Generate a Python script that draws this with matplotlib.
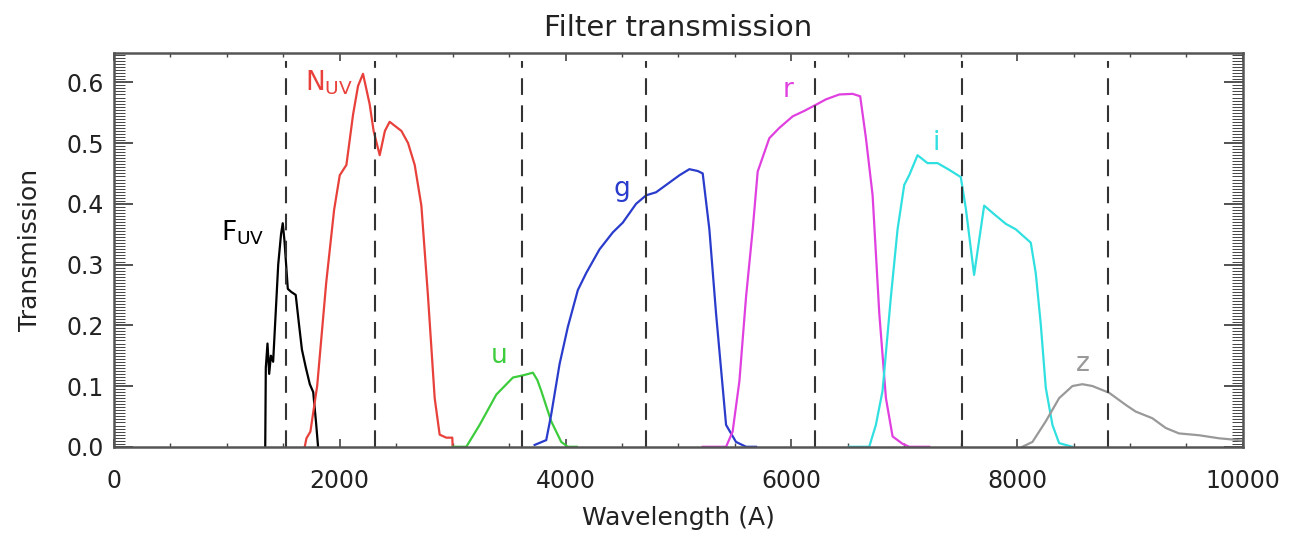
import numpy as np
import matplotlib
matplotlib.use("Agg")
import matplotlib.pyplot as plt
from matplotlib.ticker import MultipleLocator

# filter curves (wavelength in A, transmission)
fuv_wave = [1340, 1345, 1360, 1375, 1390, 1410, 1455, 1480, 1495, 1510, 1540,
            1570, 1610, 1640, 1665, 1700, 1735, 1765, 1790, 1808]
fuv_trans = [0.0, 0.13, 0.17, 0.12, 0.15, 0.14, 0.30, 0.35, 0.368, 0.34, 0.26,
             0.255, 0.25, 0.20, 0.16, 0.13, 0.103, 0.09, 0.04, 0.0]

nuv_wave = [1690, 1705, 1740, 1800, 1880, 1950, 2000, 2059, 2118, 2162, 2206,
            2265, 2300, 2354, 2400, 2442, 2546, 2605, 2664, 2723, 2782, 2841,
            2885, 2944, 2997, 3000]
nuv_trans = [0.0, 0.014, 0.025, 0.10, 0.27, 0.39, 0.447, 0.464, 0.547, 0.594,
             0.614, 0.564, 0.52, 0.48, 0.52, 0.535, 0.52, 0.50, 0.464, 0.397,
             0.247, 0.08, 0.02, 0.015, 0.015, 0.0]

u_wave = [3000, 3121, 3239, 3387, 3534, 3608, 3652, 3711, 3750, 3785, 3873,
          3962, 4020, 4100]
u_trans = [0.0, 0.0, 0.036, 0.086, 0.114, 0.117, 0.119, 0.122, 0.11, 0.092,
           0.042, 0.008, 0.0, 0.0]

g_wave = [3726, 3829, 3873, 3947, 4020, 4109, 4183, 4301, 4419, 4507, 4625,
          4714, 4802, 4891, 5009, 5097, 5171, 5215, 5274, 5333, 5422, 5510,
          5599, 5687]
g_trans = [0.003, 0.011, 0.053, 0.136, 0.197, 0.258, 0.286, 0.325, 0.353,
           0.369, 0.40, 0.414, 0.419, 0.431, 0.447, 0.457, 0.454, 0.45, 0.358,
           0.22, 0.036, 0.008, 0.0, 0.0]

r_wave = [5215, 5422, 5480, 5540, 5599, 5658, 5702, 5805, 5894, 6012, 6115,
          6218, 6307, 6425, 6543, 6610, 6661, 6720, 6779, 6838, 6897, 6985,
          7044, 7221]
r_trans = [0.0, 0.0, 0.025, 0.108, 0.247, 0.358, 0.453, 0.508, 0.525, 0.544,
           0.553, 0.563, 0.572, 0.58, 0.581, 0.577, 0.508, 0.414, 0.22, 0.08,
           0.017, 0.005, 0.0, 0.0]

i_wave = [6513, 6690, 6749, 6808, 6882, 6941, 7000, 7044, 7118, 7206, 7295,
          7398, 7501, 7546, 7619, 7708, 7796, 7900, 7988, 8121, 8165, 8209,
          8254, 8313, 8372, 8490]
i_trans = [0.0, 0.0, 0.036, 0.092, 0.247, 0.358, 0.431, 0.447, 0.48, 0.467,
           0.467, 0.456, 0.444, 0.392, 0.283, 0.397, 0.383, 0.367, 0.358,
           0.336, 0.286, 0.203, 0.097, 0.036, 0.006, 0.0]

z_wave = [8047, 8136, 8254, 8372, 8490, 8578, 8667, 8814, 8962, 9050, 9198,
          9316, 9434, 9611, 9788, 9906, 10000]
z_trans = [0.0, 0.008, 0.042, 0.08, 0.1, 0.103, 0.1, 0.089, 0.069, 0.058,
           0.047, 0.031, 0.022, 0.019, 0.014, 0.012, 0.01]

# effective wavelengths (dashed lines)
eff_wave = [1528, 2310, 3617, 4714, 6212, 7510, 8808]

curves = [
    (fuv_wave, fuv_trans, 'black'),
    (nuv_wave, nuv_trans, '#e8403a'),
    (u_wave, u_trans, '#3ccc3c'),
    (g_wave, g_trans, '#2a3ccc'),
    (r_wave, r_trans, '#e040e0'),
    (i_wave, i_trans, '#30e0e0'),
    (z_wave, z_trans, '#999999'),
]

# band labels: text, x, y, colour, alignment
labels = [
    (r'F$_{\mathrm{UV}}$', 950, 0.352, 'black', 'left'),
    (r'N$_{\mathrm{UV}}$', 1690, 0.600, '#e8403a', 'left'),
    ('u', 3416, 0.150, '#3ccc3c', 'center'),
    ('g', 4496, 0.425, '#2a3ccc', 'center'),
    ('r', 5973, 0.588, '#e040e0', 'center'),
    ('i', 7283, 0.500, '#30e0e0', 'center'),
    ('z', 8584, 0.137, '#999999', 'center'),
]

fig = plt.figure(figsize=(12.92, 5.37), dpi=100)
ax = fig.add_axes([0.0882, 0.168, 0.8738, 0.733])

for w, t, c in curves:
    ax.plot(w, t, color=c, lw=1.6)

ax.vlines(eff_wave, 0, 0.635, colors='#333333', lw=1.5,
          linestyles=(0, (8, 5)))

for txt, x, y, c, ha in labels:
    ax.text(x, y, txt, color=c, fontsize=19, ha=ha, va='center')

ax.set_xlim(0, 10000)
ax.set_ylim(0, 0.648)
ax.xaxis.set_major_locator(MultipleLocator(2000))
ax.xaxis.set_minor_locator(MultipleLocator(500))
ax.yaxis.set_major_locator(MultipleLocator(0.1))
ax.yaxis.set_minor_locator(MultipleLocator(0.005))
ax.yaxis.set_major_formatter(lambda v, p: f'{v:.1f}')

ax.tick_params(axis='both', which='both', direction='in', top=True,
               right=True, colors='#444444', labelcolor='#222222')
ax.tick_params(axis='x', which='major', length=6, width=1.2,
               labelsize=17, pad=16)
ax.tick_params(axis='x', which='minor', length=3, width=1.0)
ax.tick_params(axis='y', which='major', length=14, width=1.3,
               labelsize=17, pad=7)
ax.tick_params(axis='y', which='minor', length=8, width=0.7)

for s in ax.spines.values():
    s.set_color('#555555')
    s.set_linewidth(1.8)

ax.set_xlabel('Wavelength (A)', fontsize=18, color='#222222', labelpad=9)
ax.set_ylabel('Transmission', fontsize=18, color='#222222', labelpad=18)
ax.set_title('Filter transmission', fontsize=21, color='#222222', pad=12)

fig.savefig('out.png', dpi=100)
